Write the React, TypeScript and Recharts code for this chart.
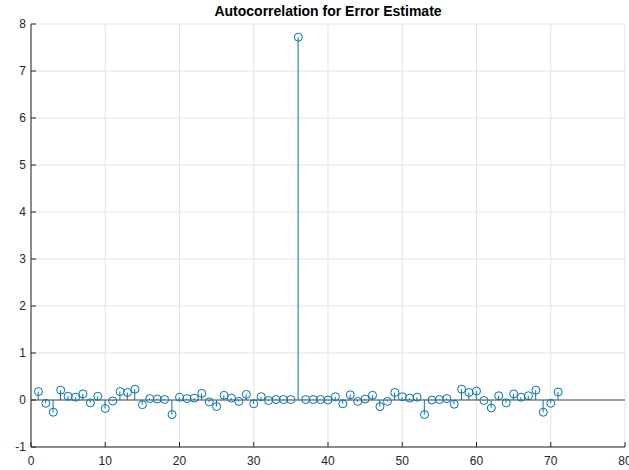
import React from 'react';
import {
  Bar,
  CartesianGrid,
  ComposedChart,
  ReferenceLine,
  Scatter,
  XAxis,
  YAxis,
} from 'recharts';

// lag index 1..71, autocorrelation of the estimation error
const lags = Array.from({ length: 71 }, (_, i) => i + 1);
const corr = [
  0.18, -0.07, -0.26, 0.21, 0.08, 0.06, 0.13, -0.06, 0.08, -0.18,
  -0.02, 0.18, 0.16, 0.23, -0.1, 0.03, 0.02, 0.01, -0.31, 0.06,
  0.03, 0.04, 0.14, -0.04, -0.14, 0.1, 0.04, -0.03, 0.12, -0.08,
  0.07, -0.01, 0.01, 0.01, 0.01, 7.72, 0.01, 0.01, 0.01, 0.0,
  0.07, -0.08, 0.11, -0.03, 0.02, 0.1, -0.14, -0.03, 0.16, 0.07,
  0.04, 0.06, -0.31, 0.0, 0.01, 0.03, -0.09, 0.23, 0.16, 0.19,
  -0.01, -0.17, 0.09, -0.06, 0.13, 0.06, 0.09, 0.21, -0.26, -0.07,
  0.17,
];

const xTicks = [0, 10, 20, 30, 40, 50, 60, 70, 80];
const yTicks = [-1, 0, 1, 2, 3, 4, 5, 6, 7, 8];

const BLUE = '#0072BD';
const AXIS = '#262626';
const GRID = '#e3e3e3';
const FONT = '"Liberation Sans", Arial, Helvetica, sans-serif';

const data = lags.map((lag, i) => ({ lag, value: corr[i] }));

const tick = { fill: AXIS, fontSize: 12, fontFamily: FONT };

function StemHead(props: { cx?: number; cy?: number }) {
  const { cx, cy } = props;
  if (cx == null || cy == null) return null;
  return <circle cx={cx} cy={cy} r={4} fill="none" stroke={BLUE} strokeWidth={1} />;
}

export default function App() {
  return (
    <div style={{ position: 'absolute', left: 0, top: 0, width: 629, height: 470, background: '#fff' }}>
      <div
        style={{
          position: 'absolute',
          left: 31,
          width: 594,
          top: 3,
          textAlign: 'center',
          fontFamily: FONT,
          fontWeight: 'bold',
          fontSize: 14,
          color: '#000',
        }}
      >
        Autocorrelation for Error Estimate
      </div>
      <ComposedChart
        width={629}
        height={470}
        data={data}
        margin={{ top: 24, right: 4, bottom: 0, left: 0 }}
        barSize={1}
      >
        <CartesianGrid stroke={GRID} strokeWidth={1} />
        <XAxis
          dataKey="lag"
          type="number"
          domain={[0, 80]}
          ticks={xTicks}
          interval={0}
          allowDataOverflow
          stroke={AXIS}
          tick={tick}
          tickSize={-5}
          tickMargin={14}
          height={23}
        />
        <XAxis
          xAxisId="top"
          orientation="top"
          dataKey="lag"
          type="number"
          domain={[0, 80]}
          ticks={xTicks}
          stroke={AXIS}
          tick={false}
          tickSize={-5}
          height={0}
        />
        <YAxis
          type="number"
          domain={[-1, 8]}
          ticks={yTicks}
          interval={0}
          stroke={AXIS}
          tick={tick}
          tickSize={-5}
          tickMargin={10}
          width={31}
        />
        <YAxis
          yAxisId="right"
          orientation="right"
          type="number"
          domain={[-1, 8]}
          ticks={yTicks}
          stroke={AXIS}
          tick={false}
          tickSize={-5}
          width={0}
        />
        <ReferenceLine y={0} stroke="#4d4d4d" strokeWidth={1} />
        <Bar dataKey="value" fill={BLUE} isAnimationActive={false} />
        <Scatter dataKey="value" shape={<StemHead />} isAnimationActive={false} />
      </ComposedChart>
    </div>
  );
}
